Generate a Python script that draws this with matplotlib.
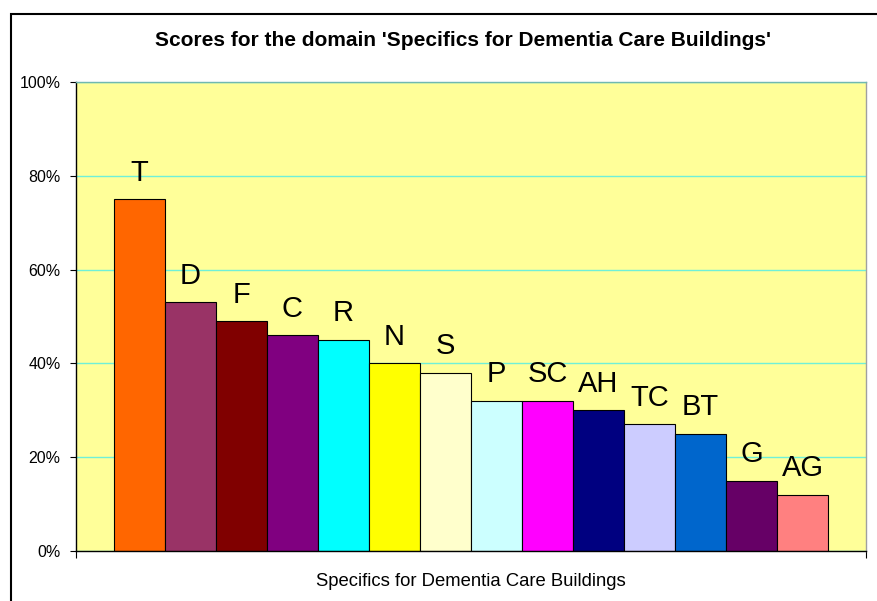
import matplotlib
matplotlib.use('Agg')
import matplotlib.pyplot as plt
from matplotlib.patches import Rectangle

labels = ['T', 'D', 'F', 'C', 'R', 'N', 'S', 'P', 'SC', 'AH', 'TC', 'BT', 'G', 'AG']
scores = [75, 53, 49, 46, 45, 40, 38, 32, 32, 30, 27, 25, 15, 12]
colours = ['#FF6600', '#993366', '#800000', '#800080', '#00FFFF', '#FFFF00',
           '#FFFFCC', '#CCFFFF', '#FF00FF', '#000080', '#CCCCFF', '#0066CC',
           '#660066', '#FF8080']
yticks = [0, 20, 40, 60, 80, 100]

W, H = 877, 601
fig = plt.figure(figsize=(W / 100, H / 100), dpi=100)
plt.rcParams['font.family'] = ['Liberation Sans', 'DejaVu Sans']

# chart area border (only left/top visible)
fig.patches.append(Rectangle((11 / W, -0.1), 1.2, (H - 14) / H + 0.1,
                             transform=fig.transFigure, fill=False,
                             edgecolor='black', linewidth=1.5))

ax = fig.add_axes([76 / W, (H - 551) / H, (866 - 76) / W, (551 - 82) / H])
ax.set_facecolor('#FFFF99')

x = list(range(len(labels)))
ax.bar(x, scores, width=1.0, color=colours, edgecolor='black', linewidth=0.8, zorder=3)
for xi, s, lab in zip(x, scores, labels):
    ax.annotate(lab, (xi, s), xytext=(0, 9), textcoords='offset points',
                ha='center', va='bottom', fontsize=21, zorder=4)

gap = 0.745
ax.set_xlim(-0.5 - gap, len(labels) - 0.5 + gap)
ax.set_ylim(0, 100)
ax.set_yticks(yticks)
ax.set_yticklabels([f'{t}%' for t in yticks], fontsize=11.5)
ax.yaxis.grid(True, color='#70F0D8', linewidth=1.0, zorder=1)
ax.set_xticks(ax.get_xlim())
ax.set_xticklabels([])
ax.tick_params(axis='y', direction='out', length=4, width=0.8, pad=7)
ax.tick_params(axis='x', direction='out', length=5, width=0.8)

ax.spines['left'].set_color('black')
ax.spines['bottom'].set_color('black')
ax.spines['right'].set_color('#A0A0A0')
ax.spines['top'].set_color('#70B8B0')
for sp in ax.spines.values():
    sp.set_linewidth(1.0)
ax.spines['bottom'].set_zorder(5)

ax.set_xlabel('Specifics for Dementia Care Buildings', fontsize=13.3, labelpad=7)
fig.text(463 / W, 1 - 40 / H, "Scores for the domain 'Specifics for Dementia Care Buildings'",
         ha='center', va='center', fontsize=15, fontweight='bold')

fig.savefig('out.png', dpi=100)
